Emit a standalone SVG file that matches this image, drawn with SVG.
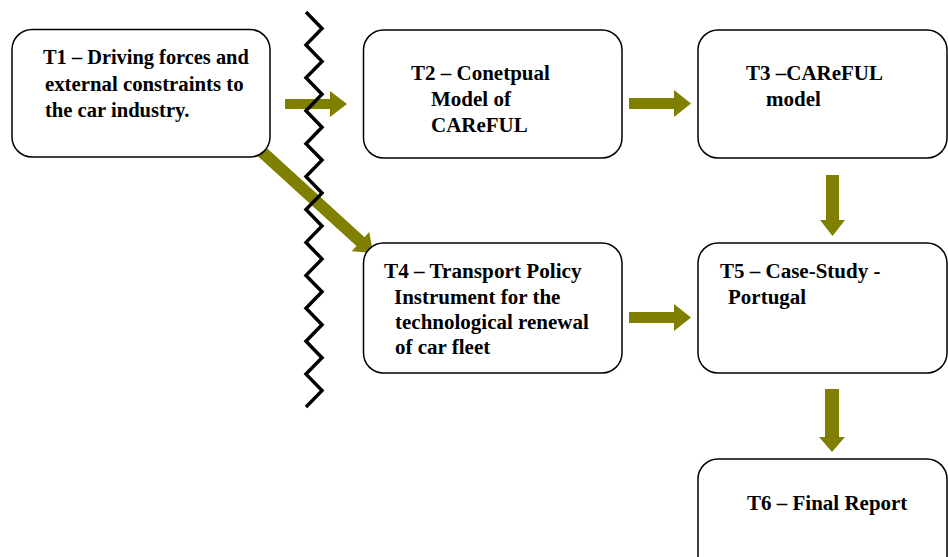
<svg xmlns="http://www.w3.org/2000/svg" width="948" height="557" viewBox="0 0 948 557">
<style>
.box{fill:#fff;stroke:#000;stroke-width:1.5}
.t{font-family:"Liberation Serif","Times New Roman",serif;font-weight:bold;font-size:20px;fill:#000}
.arr{fill:#808000;stroke:none}
.zig{fill:none;stroke:#000;stroke-width:3.5;stroke-linejoin:miter}
</style>
<rect width="948" height="557" fill="#fff"/>
<g id="connectors">
<polygon class="arr" points="285,99 330,99 330,91 347,104 330,117 330,109 285,109"/>
<polygon class="arr" points="629,98 674,98 674,90 691,103.5 674,117 674,109 629,109"/>
<polygon class="arr" points="629,312 674,312 674,304 691,317.5 674,331 674,323 629,323"/>
<polygon class="arr" points="826,175 839,175 839,220 845,220 832.5,236 820,220 826,220"/>
<polygon class="arr" points="825,389 839,389 839,437 845,437 832,452 819,437 825,437"/>
<polygon class="arr" transform="translate(260,150) rotate(42.35)" points="0,-6 136,-6 136,-13 153,0 136,13 136,6 0,6"/>
</g>
<g id="separator">
<polyline class="zig" points="306,12 322,28.5 306,44.9 322,61.4 306,77.8 322,94.3 306,110.8 322,127.2 306,143.7 322,160.1 306,176.6 322,193.1 306,209.5 322,226 306,242.4 322,258.9 306,275.4 322,291.8 306,308.3 322,324.7 306,341.2 322,357.7 306,374.1 322,390.6 306,407"/>
</g>
<g id="T1">
<rect class="box" x="12" y="29.5" width="258" height="127.5" rx="20"/>
<text class="t" transform="translate(43,64) scale(1.02,1)">T1 – Driving forces and</text>
<text class="t" transform="translate(45,91) scale(1.04,1)">external constraints to</text>
<text class="t" transform="translate(45,117) scale(1.03,1)">the  car industry.</text>
</g>
<g id="T2">
<rect class="box" x="363.5" y="30" width="258.5" height="128" rx="20"/>
<text class="t" transform="translate(411,80) scale(1.05,1)">T2 – Conetpual</text>
<text class="t" transform="translate(431,106) scale(1.05,1)">Model of</text>
<text class="t" transform="translate(431,132) scale(1.05,1)">CAReFUL</text>
</g>
<g id="T3">
<rect class="box" x="698" y="30" width="249" height="128" rx="20"/>
<text class="t" transform="translate(746,80) scale(1.05,1)">T3 –CAReFUL</text>
<text class="t" transform="translate(766,106) scale(1.05,1)">model</text>
</g>
<g id="T4">
<rect class="box" x="363.5" y="243" width="258.5" height="130" rx="20"/>
<text class="t" transform="translate(384,278) scale(1.06,1)">T4 – Transport Policy</text>
<text class="t" transform="translate(394,304) scale(1.05,1)">Instrument for the</text>
<text class="t" transform="translate(395,329) scale(1.05,1)">technological renewal</text>
<text class="t" transform="translate(395,354) scale(1.05,1)">of car fleet</text>
</g>
<g id="T5">
<rect class="box" x="698" y="243" width="249" height="130" rx="20"/>
<text class="t" transform="translate(720,278) scale(1.05,1)">T5 – Case-Study -</text>
<text class="t" transform="translate(728,304) scale(1.05,1)">Portugal</text>
</g>
<g id="T6">
<rect class="box" x="698" y="459" width="249" height="130" rx="20"/>
<text class="t" transform="translate(747,510) scale(1.05,1)">T6 – Final Report</text>
</g>
</svg>
